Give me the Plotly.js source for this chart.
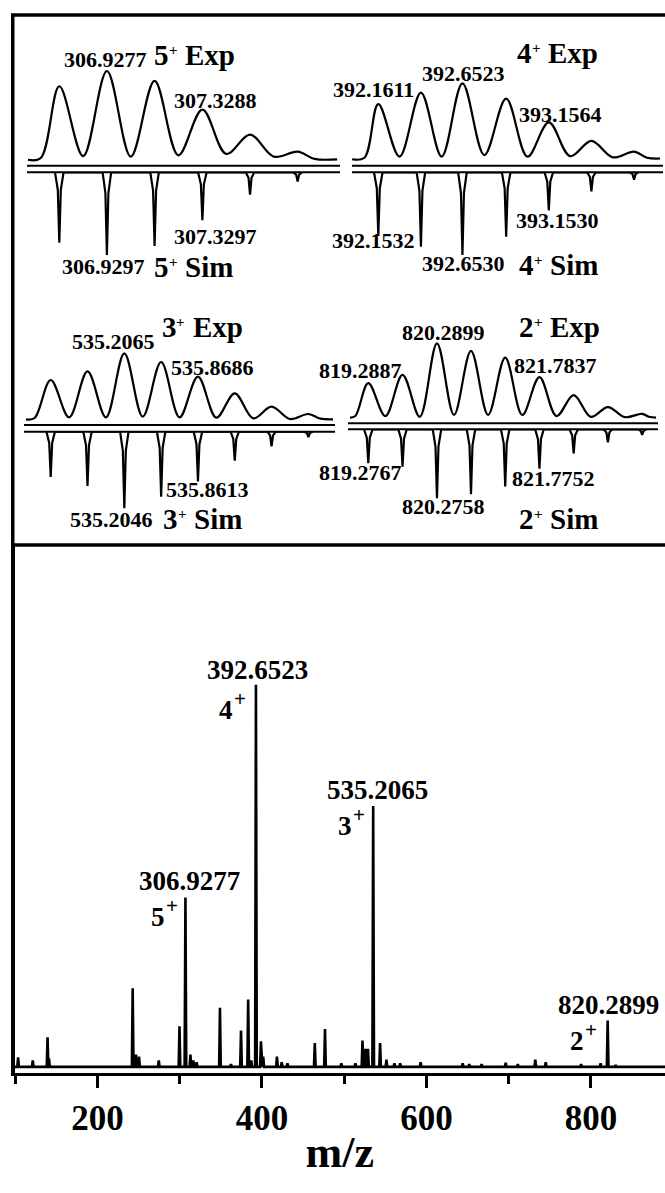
<!DOCTYPE html>
<html>
<head>
<meta charset="utf-8">
<script src="https://cdn.plot.ly/plotly-3.0.1.min.js"></script>
<style>html,body{margin:0;padding:0;background:#fff}</style>
</head>
<body>
<div id="chart" style="width:665px;height:1193px"></div>
<script>
// ---------------- DATA ----------------
// Main ESI-MS spectrum: peak m/z and relative intensity (%)
const mainMz  = [103.5, 121.3, 139.3, 141.0, 242.8, 246.8, 250.5, 274.5, 299.7, 306.93, 313.0, 316.5, 320.5,
                 348.9, 362.3, 374.5, 383.2, 387.0, 392.65, 398.7, 401.5, 418.2, 424.0, 431.0, 464.2, 476.6,
                 496.5, 513.6, 522.2, 525.8, 528.9, 535.21, 543.6, 551.3, 561.0, 568.0, 592.9, 644.0, 652.0,
                 667.0, 696.3, 711.0, 732.3, 745.0, 788.0, 811.7, 820.29, 830.0];
const mainInt = [2.8, 2.0, 8.0, 2.5, 20.8, 3.5, 3.0, 2.0, 10.9, 44.5, 3.5, 2.0, 1.5,
                 15.7, 1.0, 9.8, 17.9, 2.0, 100, 7.0, 3.0, 3.0, 1.5, 1.2, 6.5, 10.2,
                 1.2, 1.2, 7.2, 5.0, 5.0, 68.4, 6.5, 2.2, 1.2, 1.2, 1.5, 1.2, 1.0,
                 1.0, 1.4, 1.0, 2.2, 1.5, 1.0, 1.2, 12.4, 0.8];
const mainLabels  = ['392.6523', '535.2065', '306.9277', '820.2899'];
const mainCharges = ['4', '3', '5', '2'];
const xTicks = [200, 400, 600, 800];

// Isotope patterns: 5+ ion
const p5Peaks = [306.7277, 306.9277, 307.1280, 307.3288, 307.5290, 307.7290];
const p5Sim   = [0.85, 1.00, 0.89, 0.58, 0.27, 0.11];
const p5ExpX  = [306.596, 306.650, 306.7277, 306.828, 306.9277, 307.028, 307.128, 307.228, 307.3288, 307.429, 307.529, 307.629, 307.729, 307.800, 307.895];
const p5ExpY  = [0.01, 0.03, 0.83, 0.05, 1.00, 0.045, 0.89, 0.06, 0.57, 0.075, 0.29, 0.045, 0.10, 0.02, 0.015];
// 4+ ion
const p4Peaks = [392.1611, 392.4099, 392.6523, 392.9075, 393.1564, 393.4050, 393.6540];
const p4Sim   = [0.77, 0.90, 1.00, 0.78, 0.46, 0.23, 0.09];
const p4ExpX  = [392.008, 392.080, 392.1611, 392.285, 392.4099, 392.531, 392.6523, 392.780, 392.9075, 393.032, 393.1564, 393.281, 393.4050, 393.530, 393.6540, 393.730, 393.806];
const p4ExpY  = [0.01, 0.03, 0.73, 0.045, 0.88, 0.045, 1.00, 0.065, 0.80, 0.045, 0.49, 0.05, 0.25, 0.035, 0.11, 0.03, 0.02];
// 3+ ion
const p3Peaks = [534.5444, 534.8754, 535.2065, 535.5376, 535.8686, 536.1996, 536.5306, 536.8616];
const p3Sim   = [0.59, 0.71, 1.00, 0.85, 0.65, 0.38, 0.19, 0.07];
const p3ExpX  = [534.322, 534.400, 534.5444, 534.710, 534.8754, 535.041, 535.2065, 535.372, 535.5376, 535.703, 535.8686, 536.034, 536.1996, 536.365, 536.5306, 536.696, 536.8616, 536.970, 537.083];
const p3ExpY  = [0.01, 0.03, 0.60, 0.04, 0.73, 0.04, 1.00, 0.05, 0.87, 0.04, 0.65, 0.035, 0.40, 0.025, 0.20, 0.015, 0.09, 0.02, 0.01];
// 2+ ion
const p2Peaks = [819.2887, 819.7877, 820.2899, 820.7857, 821.2847, 821.7837, 822.2827, 822.7817, 823.2807];
const p2Sim   = [0.49, 0.54, 1.00, 0.94, 0.83, 0.57, 0.35, 0.19, 0.08];
const p2ExpX  = [819.022, 819.100, 819.2887, 819.538, 819.7877, 820.039, 820.2899, 820.538, 820.7857, 821.035, 821.2847, 821.534, 821.7837, 822.033, 822.2827, 822.532, 822.7817, 823.031, 823.2807, 823.380, 823.483];
const p2ExpY  = [0.01, 0.03, 0.47, 0.03, 0.58, 0.02, 1.00, 0.045, 0.90, 0.045, 0.81, 0.045, 0.55, 0.03, 0.31, 0.02, 0.15, 0.015, 0.06, 0.02, 0.01];

// Inset labels
const p5Labels = {exp: ['306.9277', '307.3288'], sim: ['306.9297', '307.3297'], z: '5'};
const p4Labels = {exp: ['392.1611', '392.6523', '393.1564'], sim: ['392.1532', '392.6530', '393.1530'], z: '4'};
const p3Labels = {exp: ['535.2065', '535.8686'], sim: ['535.2046', '535.8613'], z: '3'};
const p2Labels = {exp: ['819.2887', '820.2899', '821.7837'], sim: ['819.2767', '820.2758', '821.7752'], z: '2'};

// ---------------- LAYOUT HELPERS ----------------
const W = 665, H = 1193;
const FONT = 'Liberation Serif, Times New Roman, serif';
const fx = px => px / W;
const fy = py => 1 - py / H;

function sticks(mz, inten, halfW, base, x0, x1) {
  const xs = [x0], ys = [base];
  mz.forEach((m, i) => {
    xs.push(m - halfW, m, m + halfW);
    ys.push(base, Math.max(inten[i], base), base);
  });
  xs.push(x1); ys.push(base);
  return {xs, ys};
}
function simSticks(mz, depth, halfW) {
  const xs = [], ys = [];
  mz.forEach((m, i) => {
    const d = depth[i];
    xs.push(m - halfW, m - halfW * 0.35, m, m + halfW * 0.35, m + halfW);
    ys.push(0, d * 0.25, d, d * 0.25, 0);
  });
  return {xs, ys};
}

const traces = [];
const main = sticks(mainMz, mainInt, 1.0, 0.3, 99.1, 890);
traces.push({x: main.xs, y: main.ys, type: 'scatter', mode: 'lines',
  line: {color: '#000', width: 2.6}, xaxis: 'x', yaxis: 'y', hoverinfo: 'skip'});

const panels = [
  {peaks: p5Peaks, sim: p5Sim, ex: p5ExpX, ey: p5ExpY, xa: 2, ye: 2, ys: 3,
   xd: [27, 340], xr: [306.592, 307.907], yed: [165.7, 40], yer: [-0.056, 1.346], ysd: [280, 172.3], ysr: [1.302, 0], hw: 0.018},
  {peaks: p4Peaks, sim: p4Sim, ex: p4ExpX, ey: p4ExpY, xa: 3, ye: 4, ys: 5,
   xd: [352, 663], xr: [392.0076, 393.823], yed: [165.7, 40], yer: [-0.074, 1.565], ysd: [280, 172.3], ysr: [1.302, 0], hw: 0.025},
  {peaks: p3Peaks, sim: p3Sim, ex: p3ExpX, ey: p3ExpY, xa: 4, ye: 6, ys: 7,
   xd: [24, 335], xr: [534.3043, 537.101], yed: [425, 300], yer: [-0.075, 1.8], ysd: [540, 431.7], ysr: [1.414, 0], hw: 0.038},
  {peaks: p2Peaks, sim: p2Sim, ex: p2ExpX, ey: p2ExpY, xa: 5, ye: 8, ys: 9,
   xd: [348, 658], xr: [818.9928, 823.512], yed: [423.3, 300], yer: [-0.0667, 1.577], ysd: [540, 429.3], ysr: [1.604, 0], hw: 0.062}
];

const layout = {
  width: W, height: H,
  margin: {l: 0, r: 0, t: 0, b: 0},
  paper_bgcolor: '#fff', plot_bgcolor: 'rgba(0,0,0,0)',
  showlegend: false,
  font: {family: FONT, color: '#000'},
  xaxis: {
    domain: [fx(14.5), 1], range: [99.1, 890], anchor: 'y',
    showline: true, linewidth: 3.5, linecolor: '#000',
    showgrid: false, zeroline: false,
    tickmode: 'array', tickvals: xTicks,
    ticks: 'outside', ticklen: 12, tickwidth: 3, tickcolor: '#000',
    minor: {tickmode: 'array', tickvals: [100, 300, 500, 700], ticks: 'outside', ticklen: 8, tickwidth: 3, tickcolor: '#000', showgrid: false},
    tickfont: {family: FONT, size: 35, color: '#000', weight: 'bold'},
    title: {text: 'm/z', font: {family: FONT, size: 44, color: '#000', weight: 'bold'}, standoff: 0},
    automargin: false
  },
  yaxis: {
    domain: [fy(1072.5), fy(545)], range: [-1.17, 136.5], anchor: 'x',
    showline: true, linewidth: 3.5, linecolor: '#000',
    showgrid: false, zeroline: false, ticks: '', showticklabels: false, automargin: false
  },
  shapes: [
    {type: 'line', xref: 'paper', yref: 'paper', x0: fx(12.75), x1: fx(12.75), y0: fy(15), y1: fy(545), line: {color: '#000', width: 3.5}},
    {type: 'line', xref: 'paper', yref: 'paper', x0: fx(11), x1: 1.01, y0: fy(15), y1: fy(15), line: {color: '#000', width: 3.5}},
    {type: 'line', xref: 'paper', yref: 'paper', x0: fx(11), x1: 1.01, y0: fy(545), y1: fy(545), line: {color: '#000', width: 3.5}}
  ],
  annotations: []
};

panels.forEach(p => {
  const xk = 'xaxis' + p.xa, yek = 'yaxis' + p.ye, ysk = 'yaxis' + p.ys;
  layout[xk] = {domain: [fx(p.xd[0]), fx(p.xd[1])], range: p.xr, anchor: 'y' + p.ye, visible: false, fixedrange: true};
  layout[yek] = {domain: [fy(p.yed[0]), fy(p.yed[1])], range: p.yer, anchor: 'x' + p.xa, visible: false, fixedrange: true};
  layout[ysk] = {domain: [fy(p.ysd[0]), fy(p.ysd[1])], range: p.ysr, anchor: 'x' + p.xa, visible: false, fixedrange: true};
  traces.push({x: p.ex, y: p.ey, type: 'scatter', mode: 'lines', line: {color: '#000', width: 2.2, shape: 'spline', smoothing: 1},
    xaxis: 'x' + p.xa, yaxis: 'y' + p.ye, hoverinfo: 'skip', cliponaxis: false});
  const s = simSticks(p.peaks, p.sim, p.hw);
  traces.push({x: s.xs, y: s.ys, type: 'scatter', mode: 'lines', line: {color: '#000', width: 2.2},
    xaxis: 'x' + p.xa, yaxis: 'y' + p.ys, hoverinfo: 'skip', cliponaxis: false});
  layout.shapes.push({type: 'line', xref: 'x' + p.xa + ' domain', yref: 'y' + p.ye + ' domain', x0: 0, x1: 1, y0: 0, y1: 0, line: {color: '#000', width: 2}});
  layout.shapes.push({type: 'line', xref: 'x' + p.xa + ' domain', yref: 'y' + p.ys + ' domain', x0: 0, x1: 1, y0: 1, y1: 1, line: {color: '#000', width: 2}});
});

function ann(text, px, py, size, xanchor) {
  layout.annotations.push({text: text, xref: 'paper', yref: 'paper', x: fx(px), y: fy(py),
    xanchor: xanchor || 'center', yanchor: 'middle', showarrow: false, borderpad: 0,
    font: {family: FONT, size: size, color: '#000', weight: 'bold'}});
}
// inset tag such as "5+ Exp": digit, small raised plus, word; (cx, cy) = centre of the whole tag
function tag(z, word, cx, cy) {
  const L = cx - 41;
  ann(z, L + 7.5, cy, 29);
  ann('+', L + 19, cy - 5, 15);
  ann(word, L + 30, cy, 29, 'left');
}
// main charge label such as "4+"
function charge(z, cx, cy) {
  ann(z, cx - 6, cy + 2, 27);
  ann('+', cx + 8, cy - 9, 21);
}
const NUM = 22, MAIN = 27;
// 5+ panel
ann(p5Labels.exp[0], 105, 59, NUM);
tag(p5Labels.z, 'Exp', 195, 55);
ann(p5Labels.exp[1], 215, 100, NUM);
ann(p5Labels.sim[1], 215, 237, NUM);
ann(p5Labels.sim[0], 103, 267, NUM);
tag(p5Labels.z, 'Sim', 195, 267);
// 4+ panel
tag(p4Labels.z, 'Exp', 558, 53);
ann(p4Labels.exp[1], 463, 73, NUM);
ann(p4Labels.exp[0], 373, 90, NUM);
ann(p4Labels.exp[2], 560, 115, NUM);
ann(p4Labels.sim[0], 373, 240, NUM);
ann(p4Labels.sim[1], 463, 263, NUM);
ann(p4Labels.sim[2], 557, 220, NUM);
tag(p4Labels.z, 'Sim', 560, 265);
// 3+ panel
tag(p3Labels.z, 'Exp', 203, 327);
ann(p3Labels.exp[0], 113, 342, NUM);
ann(p3Labels.exp[1], 212, 367, NUM);
ann(p3Labels.sim[1], 207, 489, NUM);
ann(p3Labels.sim[0], 111, 519, NUM);
tag(p3Labels.z, 'Sim', 204, 519);
// 2+ panel
tag(p2Labels.z, 'Exp', 560, 327);
ann(p2Labels.exp[1], 443, 332, NUM);
ann(p2Labels.exp[0], 360, 370, NUM);
ann(p2Labels.exp[2], 555, 365, NUM);
ann(p2Labels.sim[0], 360, 472, NUM);
ann(p2Labels.sim[1], 443, 507, NUM);
ann(p2Labels.sim[2], 553, 478, NUM);
tag(p2Labels.z, 'Sim', 560, 519);
// main spectrum labels
ann(mainLabels[0], 257, 670, MAIN);  charge(mainCharges[0], 232, 708);
ann(mainLabels[1], 377, 790, MAIN);  charge(mainCharges[1], 351, 824);
ann(mainLabels[2], 189, 881, MAIN);  charge(mainCharges[2], 163.5, 915);
ann(mainLabels[3], 608, 1005, MAIN); charge(mainCharges[3], 583, 1039);

Plotly.newPlot('chart', traces, layout, {displayModeBar: false, staticPlot: true});
</script>
</body>
</html>
